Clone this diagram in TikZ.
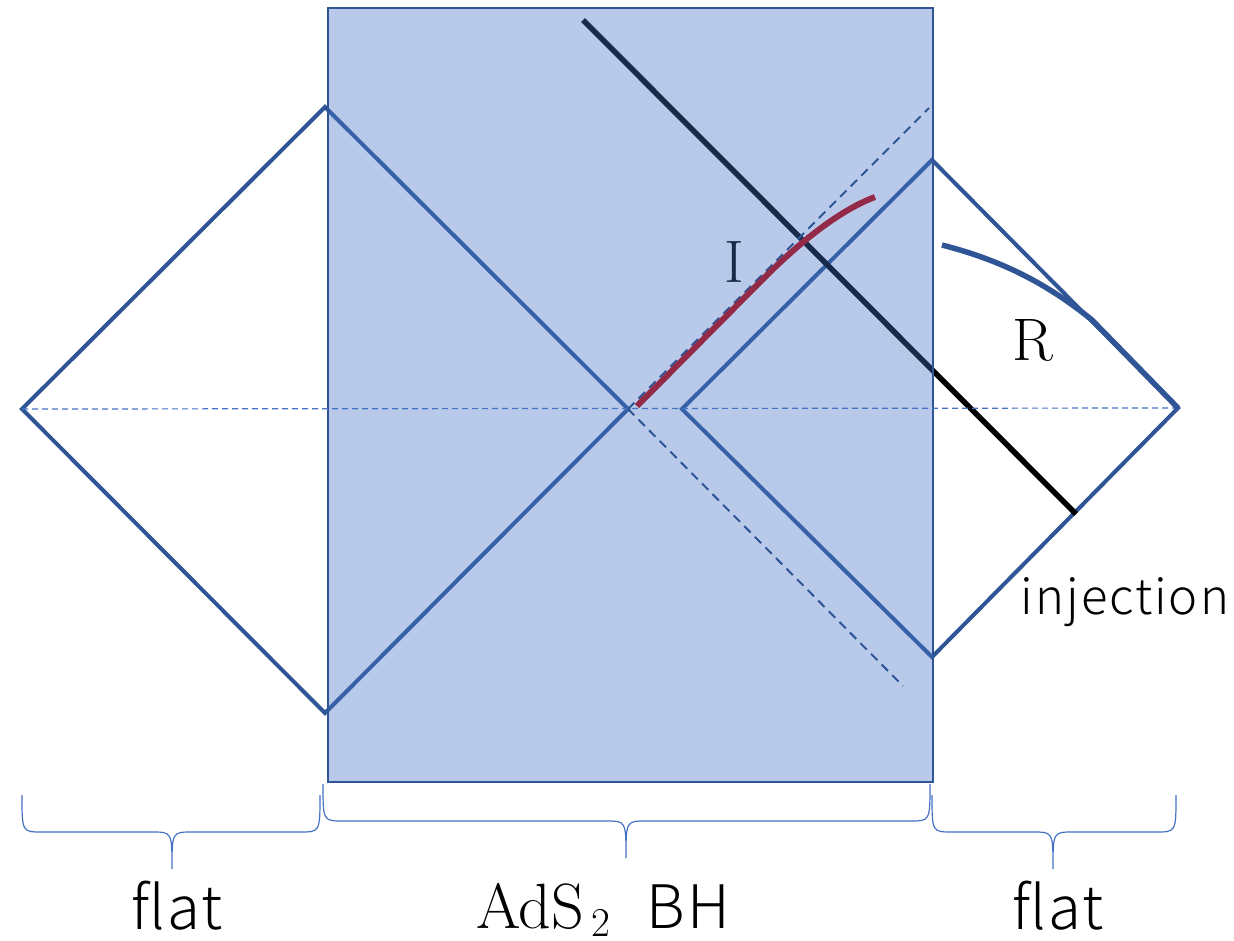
\documentclass[tikz,border=0pt]{standalone}
\usepackage{fontspec}
\newfontfamily\jpsans{Noto Sans CJK JP}[UprightFont=* Light, LetterSpace=4]
\definecolor{dkblue}{HTML}{2F5597}
\definecolor{midblue}{HTML}{4472C4}
\definecolor{wine}{HTML}{922A48}
\tikzset{
  diam/.style={draw=dkblue, line width=4pt, line join=miter},
  blkline/.style={draw=black, line width=5.5pt},
  hdash/.style={draw=midblue, line width=1.2pt, dash pattern=on 6pt off 4pt},
  ddash/.style={draw=dkblue, line width=2pt, dash pattern=on 9pt off 6pt},
  brace/.style={draw=midblue, line width=1.2pt},
  lbl/.style={inner sep=0pt, anchor=center},
}
\begin{document}
\begin{tikzpicture}[x=1pt,y=-1pt]
\useasboundingbox (0,0) rectangle (1234,940);
\coordinate (L) at (22,409);
\coordinate (T1) at (325,107);
\coordinate (B1) at (325,713);
\coordinate (C) at (628,409);
\coordinate (L2) at (682,409);
\coordinate (T2) at (932,160);
\coordinate (R2) at (1178,408);
\coordinate (B2) at (932,657);
\coordinate (Ks) at (583,20);
\coordinate (Ke) at (1076,514);
\coordinate (Du) at (929,108);
\coordinate (Dd) at (903,686);
% lines under the shaded block
\draw[diam] (T1) -- (L) -- (B1) -- (C) -- cycle;
\draw[diam] (L2) -- (T2) -- (R2) -- (B2) -- cycle;
\draw[blkline] (Ks) -- (Ke);
\node[lbl, font=\fontsize{60}{60}\selectfont] (I) at (734,262) {I};
% shaded block
\fill[midblue, fill opacity=0.38] (328,8) rectangle (933,782);
\draw[dkblue, line width=2pt] (328,8) rectangle (933,782);
% dashed lines
\draw[hdash] (L) -- (R2);
\draw[ddash] (C) -- (Du);
\draw[ddash] (C) -- (Dd);
% red curve
\draw[wine, line width=6pt] (637,406) -- (765,277) .. controls (800,242) and (840,210) .. (875,197);
% R curve
\draw[dkblue, line width=5.5pt] (942,245) .. controls (1000,260) and (1045,282) .. (1092,320) -- (R2);
\node[lbl, font=\fontsize{60}{60}\selectfont] (R) at (1033,340) {R};
\node[lbl, font=\jpsans\fontsize{49}{49}\selectfont] (inj) at (1125,602) {injection};
% braces
\draw[brace] (22,795) .. controls (22,832) .. (42,832) -- (152,832) .. controls (172,832) .. (172,869)
  .. controls (172,832) .. (192,832) -- (300,832) .. controls (320,832) .. (320,795);
\draw[brace] (323,784) .. controls (323,821) .. (343,821) -- (606,821) .. controls (626,821) .. (626,858)
  .. controls (626,821) .. (646,821) -- (910,821) .. controls (930,821) .. (930,784);
\draw[brace] (932,795) .. controls (932,832) .. (952,832) -- (1033,832) .. controls (1053,832) .. (1053,869)
  .. controls (1053,832) .. (1073,832) -- (1156,832) .. controls (1176,832) .. (1176,795);
\node[lbl, anchor=base, font=\jpsans\fontsize{60}{60}\selectfont] (f1) at (177,929) {flat};
\node[lbl, anchor=base, font=\jpsans\fontsize{60}{60}\selectfont] (f2) at (1058,929) {flat};
\node[lbl, anchor=base west, font=\fontsize{64}{64}\selectfont] (ads) at (476,928) {AdS\kern7pt\raisebox{-8pt}{\fontsize{41}{41}\selectfont 2}};
\node[lbl, anchor=base west, font=\jpsans\fontsize{60}{60}\selectfont] (bh) at (646,928) {BH};
\end{tikzpicture}
\end{document}
